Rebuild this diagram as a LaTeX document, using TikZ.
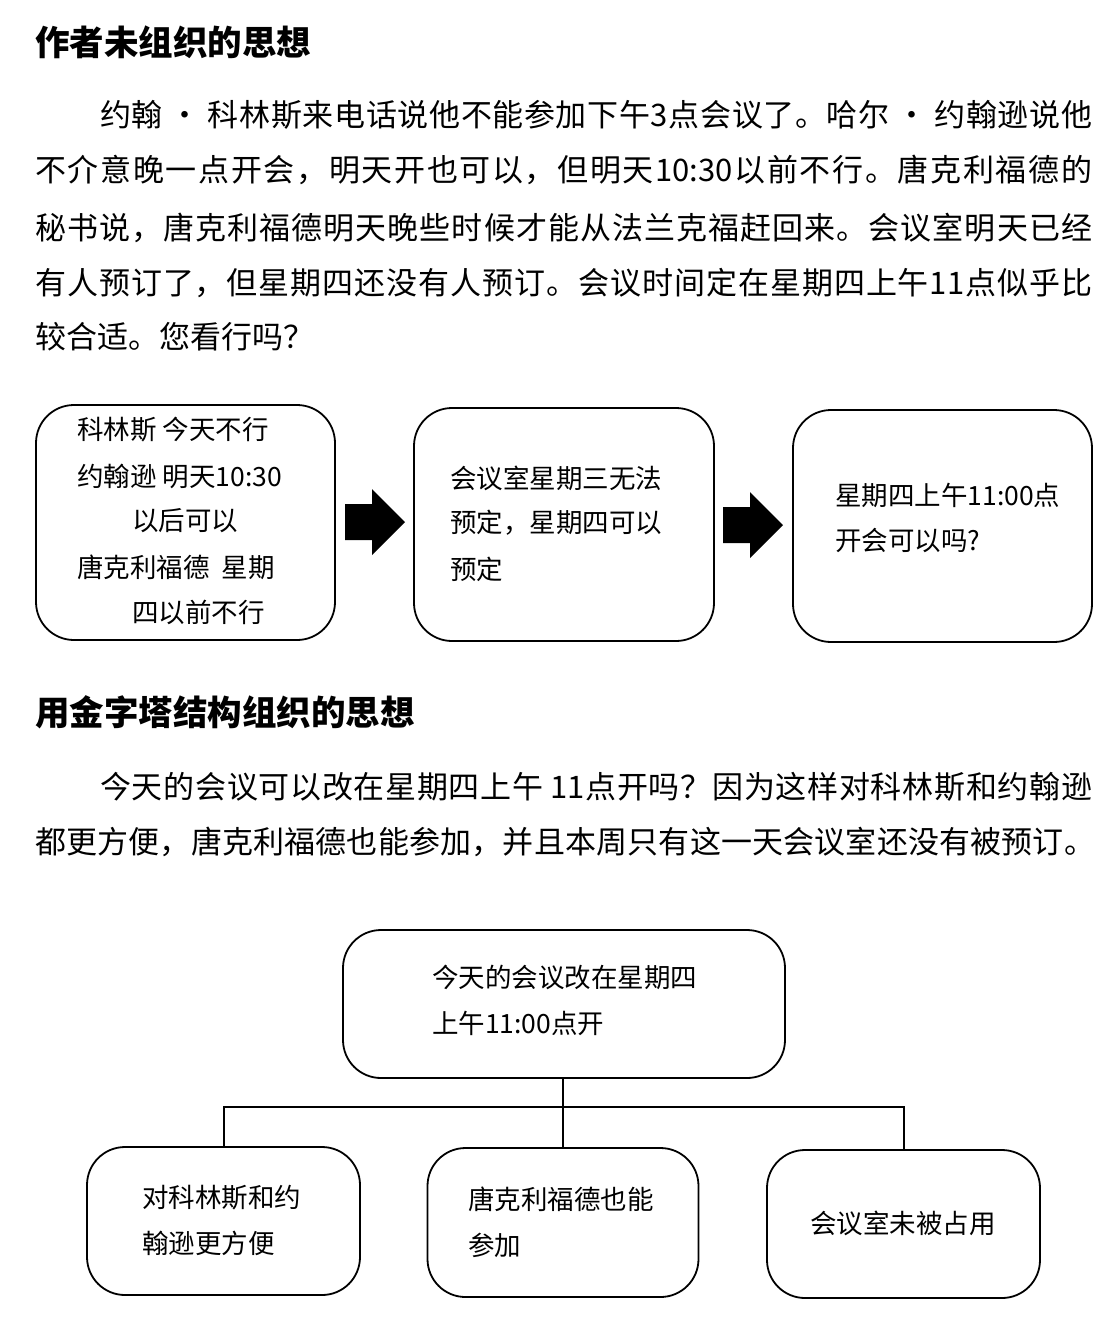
\documentclass[tikz,border=0pt]{standalone}
\usepackage{fontspec}
\setmainfont{Noto Sans CJK SC}
\XeTeXinterchartokenstate=1
\newcount\cjkcc
\cjkcc="4E00
\loop \XeTeXcharclass\cjkcc=7 \advance\cjkcc by 1 \ifnum\cjkcc<"A000 \repeat
\XeTeXcharclass"3001=7
\XeTeXcharclass"3002=7
\XeTeXcharclass"FF0C=7
\XeTeXcharclass"FF1F=7
\XeTeXcharclass"FF1A=7
\def\cjkglue{\hskip 0pt plus 3pt minus 1.5pt\relax}
\XeTeXinterchartoks 7 7 = {\cjkglue}
\XeTeXinterchartoks 0 7 = {\cjkglue}
\XeTeXinterchartoks 7 0 = {\cjkglue}
\newcommand\fsp{\hspace{7pt}}
\begin{document}
\begin{tikzpicture}[x=1pt,y=-1pt,
  head/.style={anchor=west,inner sep=0pt,font=\fontsize{34.5pt}{40pt}\selectfont\bfseries},
  para/.style={anchor=west,inner sep=0pt,font=\fontsize{31pt}{38pt}\selectfont},
  btxt/.style={anchor=west,inner sep=0pt,font=\fontsize{26.5pt}{32pt}\selectfont},
  box/.style={draw,line width=1.8pt,rounded corners=38pt,inner sep=0pt},
  conn/.style={line width=2pt}]
\useasboundingbox (0,0) rectangle (1112,1326);
% ---- section 1
\node[head] (h1) at (35,42) {作者未组织的思想};
\node[para] (p1) at (100,115) {\makebox[992pt][s]{约翰{\fsp}·{\fsp}科林斯来电话说他不能参加下午3点会议了。哈尔{\fsp}·{\fsp}约翰逊说他}};
\node[para] (p2) at (35,170) {\makebox[1057pt][s]{不介意晚一点开会，明天开也可以，但明天10:30以前不行。唐克利福德的}};
\node[para] (p3) at (35,228) {\makebox[1057pt][s]{秘书说，唐克利福德明天晚些时候才能从法兰克福赶回来。会议室明天已经}};
\node[para] (p4) at (35,283) {\makebox[1057pt][s]{有人预订了，但星期四还没有人预订。会议时间定在星期四上午11点似乎比}};
\node[para] (p5) at (35,337) {较合适。您看行吗？};
% boxes
\node[box,minimum width=299pt,minimum height=235pt] (b1) at (185.5,522.5) {};
\node[box,minimum width=300pt,minimum height=233pt] (b2) at (564,524.5) {};
\node[box,minimum width=299pt,minimum height=232pt] (b3) at (942.5,526) {};
\node[btxt] (t11) at (77,430) {科林斯 今天不行};
\node[btxt] (t12) at (77,476) {约翰逊 明天10:30};
\node[btxt] (t13) at (132,521) {以后可以};
\node[btxt] (t14) at (77,567) {唐克利福德\ \ 星期};
\node[btxt] (t15) at (132,612) {四以前不行};
\node[btxt] (t21) at (450,478) {会议室星期三无法};
\node[btxt] (t22) at (450,523) {预定，星期四可以};
\node[btxt] (t23) at (450,569) {预定};
\node[btxt] (t31) at (835,495) {星期四上午11:00点};
\node[btxt] (t32) at (835,541) {开会可以吗?};
% block arrows
\coordinate (a1) at (375,522);
\coordinate (a2) at (753,525);
\foreach \a in {a1,a2}
  \fill[shift={(\a)}] (-30,-18) -- (-3,-18) -- (-3,-33) -- (30,0) -- (-3,33) -- (-3,18) -- (-30,18) -- cycle;
% ---- section 2
\node[head] (h2) at (35,712) {用金字塔结构组织的思想};
\node[para] (q1) at (100,787) {\makebox[992pt][s]{今天的会议可以改在星期四上午{\fsp}11点开吗？因为这样对科林斯和约翰逊}};
\node[para] (q2) at (35,842) {\makebox[1060pt][s]{都更方便，唐克利福德也能参加，并且本周只有这一天会议室还没有被预订。}};
% tree
\node[box,minimum width=442pt,minimum height=148pt] (top) at (564,1004) {};
\node[box,minimum width=273pt,minimum height=148pt] (ca) at (223.5,1221) {};
\node[box,minimum width=271pt,minimum height=149pt] (cb) at (563,1222.5) {};
\node[box,minimum width=273pt,minimum height=148pt] (cc) at (903.5,1224) {};
\node[btxt] (tt1) at (432,977) {今天的会议改在星期四};
\node[btxt] (tt2) at (432,1023) {上午11:00点开};
\node[btxt] (ta1) at (142,1198) {对科林斯和约};
\node[btxt] (ta2) at (142,1243) {翰逊更方便};
\node[btxt] (tb1) at (468,1199) {唐克利福德也能};
\node[btxt] (tb2) at (468,1245) {参加};
\node[btxt] (tc1) at (810,1223) {会议室未被占用};
\coordinate (j) at (563,1107);
\draw[conn] (j |- top.south) -- (j |- cb.north);
\draw[conn] (ca.north) |- (j) -| (cc.north);
\end{tikzpicture}
\end{document}
